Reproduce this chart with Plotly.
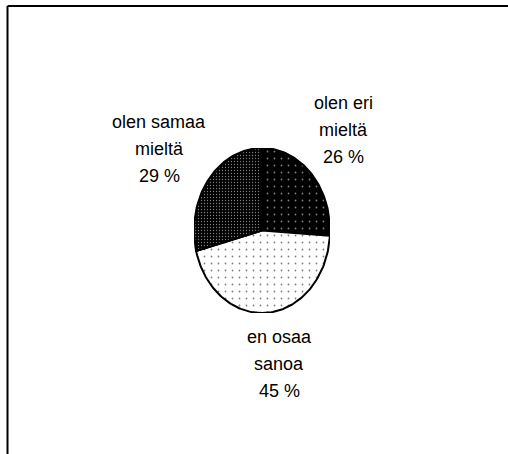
import numpy as np
import plotly.graph_objects as go

# answers, clockwise from 12 o'clock
labels = ["olen eri|mieltä", "en osaa|sanoa", "olen samaa|mieltä"]
values = [26, 45, 29]

# black & white hatching, like the old office chart
bg_colors = ["black", "white", "black"]
dot_colors = ["white", "black", "white"]
dot_spacing = [7, 7, 3]
dot_solidity = [0.05, 0.05, 0.15]

W, H = 508, 454
# where each label block is centred (pixels from top-left)
label_px = [(343, 129.5), (279, 363.5), (159, 149.5)]
LINE_GAP = 27

FONT = "Liberation Sans, Arial, sans-serif"

fig = go.Figure()

total = sum(values)
start = 0.0
for i, v in enumerate(values):
    frac = v / total
    t = np.linspace(start, start + frac, max(int(frac * 240), 2))
    ang = np.pi / 2 - 2 * np.pi * t  # clockwise
    xs = np.concatenate([[0], np.cos(ang), [0]])
    ys = np.concatenate([[0], np.sin(ang), [0]])
    fig.add_trace(go.Scatter(
        x=xs, y=ys,
        mode="lines",
        fill="toself",
        fillcolor=bg_colors[i],
        fillpattern=dict(shape=".", fgcolor=dot_colors[i], size=dot_spacing[i],
                         solidity=dot_solidity[i], fillmode="overlay"),
        line=dict(color="black", width=2),
        hoverinfo="skip",
        showlegend=False,
    ))
    start += frac

# labels outside the pie, one annotation per line so the spacing matches
annotations = []
for lab, v, (cx, cy) in zip(labels, values, label_px):
    lines = lab.split("|") + [f"{v} %"]
    mid = (len(lines) - 1) / 2
    for k, line in enumerate(lines):
        annotations.append(dict(
            text=line,
            x=cx / W, y=1 - cy / H, xref="paper", yref="paper",
            xanchor="center", yanchor="middle",
            yshift=(mid - k) * LINE_GAP,
            showarrow=False,
            font=dict(family=FONT, size=18, color="black"),
        ))

# frame around the chart area (only left and top are in view)
frame_x = 7.5 / W
frame_y = 1 - 6 / H
shapes = [
    dict(type="line", xref="paper", yref="paper", x0=frame_x, y0=frame_y, x1=1, y1=frame_y,
         line=dict(color="black", width=2)),
    dict(type="line", xref="paper", yref="paper", x0=frame_x, y0=0, x1=frame_x, y1=frame_y,
         line=dict(color="black", width=2)),
]

fig.update_layout(
    width=W, height=H,
    margin=dict(l=0, r=0, t=0, b=0),
    paper_bgcolor="white",
    plot_bgcolor="white",
    # squashed axes give the elliptical pie
    xaxis=dict(domain=[194 / W, 330 / W], range=[-1, 1], visible=False, fixedrange=True),
    yaxis=dict(domain=[(H - 313) / H, (H - 148) / H], range=[-1, 1], visible=False, fixedrange=True),
    annotations=annotations,
    shapes=shapes,
    hovermode=False,
)

fig.write_html("out.html", config={"displayModeBar": False},
               post_script="document.body.style.margin='0';")
